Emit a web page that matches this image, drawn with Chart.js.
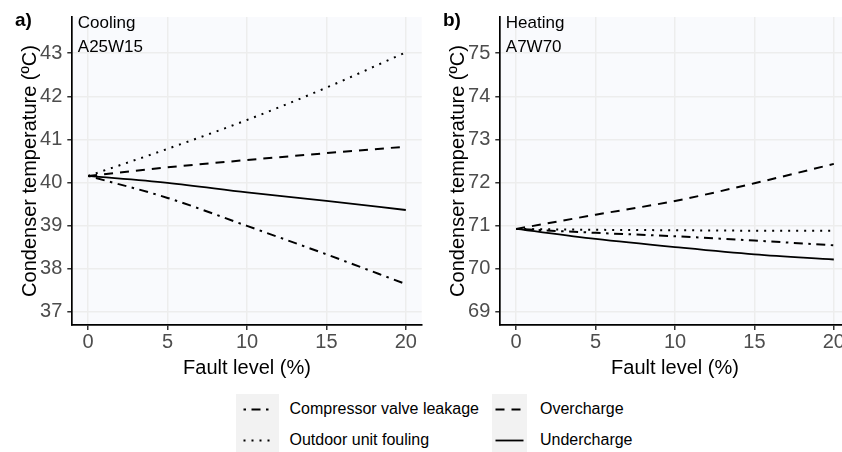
<!DOCTYPE html>
<html>
<head>
<meta charset="utf-8">
<script src="https://cdn.jsdelivr.net/npm/chart.js@4.4.1/dist/chart.umd.min.js"></script>
<style>
  html, body { margin: 0; padding: 0; background: #ffffff; }
  body { width: 842px; height: 452px; overflow: hidden; position: relative;
         font-family: 'Liberation Sans', Arial, Helvetica, sans-serif; }
  canvas { position: absolute; top: 0; display: block; }
  #cooling { left: 0; }
  #heating { left: 428px; }
  .key { position: absolute; background: #F2F2F2; }
  .key svg { position: absolute; left: 0; top: 0; }
  .lab { position: absolute; font-size: 16px; line-height: 20px; color: #000; white-space: nowrap; }
</style>
</head>
<body>
<canvas id="cooling" width="428" height="390"></canvas>
<canvas id="heating" width="428" height="390"></canvas>
<div id="legend"></div>
<script>
// Fault level (%) on the x axis
const faultLevels = [0, 5, 10, 15, 20];
const xTickValues = [0, 5, 10, 15, 20];

const seriesNames = ['Compressor valve leakage', 'Outdoor unit fouling', 'Overcharge', 'Undercharge'];

// Cooling mode, A25W15: condenser temperature (°C)
const coolingCompressor  = [40.15, 39.64, 38.99, 38.33, 37.64];
const coolingFouling     = [40.15, 40.78, 41.45, 42.20, 43.02];
const coolingOvercharge  = [40.15, 40.35, 40.52, 40.68, 40.83];
const coolingUndercharge = [40.15, 39.99, 39.77, 39.57, 39.36];
const coolingTicks = [37, 38, 39, 40, 41, 42, 43];

// Heating mode, A7W70: condenser temperature (°C)
const heatingCompressor  = [70.92, 70.83, 70.75, 70.65, 70.54];
const heatingFouling     = [70.92, 70.90, 70.89, 70.88, 70.88];
const heatingOvercharge  = [70.92, 71.25, 71.57, 71.98, 72.43];
const heatingUndercharge = [70.92, 70.69, 70.50, 70.33, 70.21];
const heatingTicks = [69, 70, 71, 72, 73, 74, 75];

// line type per fault
const lineStyles = {
  'Compressor valve leakage': { dash: [2.5, 5.5, 9, 5.5], width: 2 },
  'Outdoor unit fouling':     { dash: [2, 6],             width: 2 },
  'Overcharge':               { dash: [9, 7],             width: 2 },
  'Undercharge':              { dash: [],                 width: 1.8 }
};

const FONT = "'Liberation Sans', Arial, Helvetica, sans-serif";

function makeDatasets(values) {
  return seriesNames.map((name, i) => ({
    label: name,
    data: faultLevels.map((x, j) => ({ x: x, y: values[i][j] })),
    borderColor: '#000000',
    borderWidth: lineStyles[name].width,
    borderDash: lineStyles[name].dash,
    borderCapStyle: 'butt',
    pointRadius: 0,
    fill: false,
    cubicInterpolationMode: 'monotone'
  }));
}

const panelDecor = {
  id: 'panelDecor',
  beforeDraw(chart, args, opts) {
    const { ctx, chartArea: a } = chart;
    ctx.save();
    ctx.fillStyle = '#F9FAFD';
    ctx.fillRect(a.left, a.top, a.right - a.left, a.bottom - a.top);
    ctx.restore();
  },
  afterDraw(chart, args, opts) {
    const { ctx, chartArea: a } = chart;
    ctx.save();
    ctx.fillStyle = '#000000';
    ctx.textBaseline = 'middle';
    ctx.textAlign = 'left';
    ctx.font = 'bold 19px ' + FONT;
    ctx.fillText(opts.tag, 15, 21);
    ctx.font = '17px ' + FONT;
    ctx.fillText(opts.mode, a.left + 5.5, 23);
    ctx.fillText(opts.condition, a.left + 5.5, 47);
    ctx.restore();
  }
};

function makeChart(id, values, yTicks, yMin, yMax, tag, mode, condition) {
  return new Chart(document.getElementById(id), {
    type: 'line',
    data: { datasets: makeDatasets(values) },
    plugins: [panelDecor],
    options: {
      responsive: false,
      animation: false,
      devicePixelRatio: 1,
      layout: { padding: { left: 0, top: 14, right: 6.3, bottom: 0 } },
      plugins: {
        legend: { display: false },
        tooltip: { enabled: false },
        panelDecor: { tag: tag, mode: mode, condition: condition }
      },
      scales: {
        x: {
          type: 'linear',
          min: -1, max: 21,
          afterBuildTicks: s => { s.ticks = xTickValues.map(v => ({ value: v })); },
          afterFit: s => { s.height = 65; },
          grid: { color: '#EDEDED', lineWidth: 1.5, tickColor: '#333333', tickWidth: 1.5, tickLength: 5 },
          border: { display: true, color: '#000000', width: 1.7 },
          ticks: { color: '#4D4D4D', font: { family: FONT, size: 20 }, padding: 0, maxRotation: 0 },
          title: { display: true, text: 'Fault level (%)', color: '#000000',
                   font: { family: FONT, size: 20 }, padding: { top: 0, bottom: 10 } }
        },
        y: {
          type: 'linear',
          min: yMin, max: yMax,
          afterBuildTicks: s => { s.ticks = yTicks.map(v => ({ value: v })); },
          afterFit: s => { s.width = 72.3; },
          grid: { color: '#EDEDED', lineWidth: 1.5, tickColor: '#333333', tickWidth: 1.5, tickLength: 5 },
          border: { display: true, color: '#000000', width: 1.7 },
          ticks: { color: '#4D4D4D', font: { family: FONT, size: 20 }, padding: 5 },
          title: { display: true, text: 'Condenser temperature (ºC)', color: '#000000',
                   font: { family: FONT, size: 20 }, padding: { top: 18, bottom: 0 } }
        }
      }
    }
  });
}

makeChart('cooling',
  [coolingCompressor, coolingFouling, coolingOvercharge, coolingUndercharge],
  coolingTicks, 36.69, 43.84, 'a)', 'Cooling', 'A25W15');

makeChart('heating',
  [heatingCompressor, heatingFouling, heatingOvercharge, heatingUndercharge],
  heatingTicks, 68.69, 75.84, 'b)', 'Heating', 'A7W70');

// legend: two columns, two rows
const legendSlots = [
  { name: 'Compressor valve leakage', keyLeft: 236, keyWidth: 43, textLeft: 289.5, row: 0 },
  { name: 'Overcharge',               keyLeft: 492, keyWidth: 35, textLeft: 540,   row: 0 },
  { name: 'Outdoor unit fouling',     keyLeft: 236, keyWidth: 43, textLeft: 289.5, row: 1 },
  { name: 'Undercharge',              keyLeft: 492, keyWidth: 35, textLeft: 540,   row: 1 }
];
const legend = document.getElementById('legend');
const rowCentres = [409, 440];
legendSlots.forEach(s => {
  const st = lineStyles[s.name];
  const key = document.createElement('div');
  key.className = 'key';
  key.style.left = s.keyLeft + 'px';
  key.style.top = (rowCentres[s.row] - 15.5) + 'px';
  key.style.width = s.keyWidth + 'px';
  key.style.height = '31px';
  const x1 = s.keyWidth / 2 - 14, x2 = s.keyWidth / 2 + 14;
  key.innerHTML = '<svg width="' + s.keyWidth + '" height="31"><line x1="' + x1 + '" y1="15.5" x2="' + x2 +
    '" y2="15.5" stroke="#000" stroke-width="' + st.width + '" stroke-dasharray="' +
    (st.dash.length ? st.dash.join(' ') : 'none') + '"/></svg>';
  legend.appendChild(key);
  const lab = document.createElement('div');
  lab.className = 'lab';
  lab.textContent = s.name;
  lab.style.left = s.textLeft + 'px';
  lab.style.top = (rowCentres[s.row] - 10) + 'px';
  legend.appendChild(lab);
});
</script>
</body>
</html>
